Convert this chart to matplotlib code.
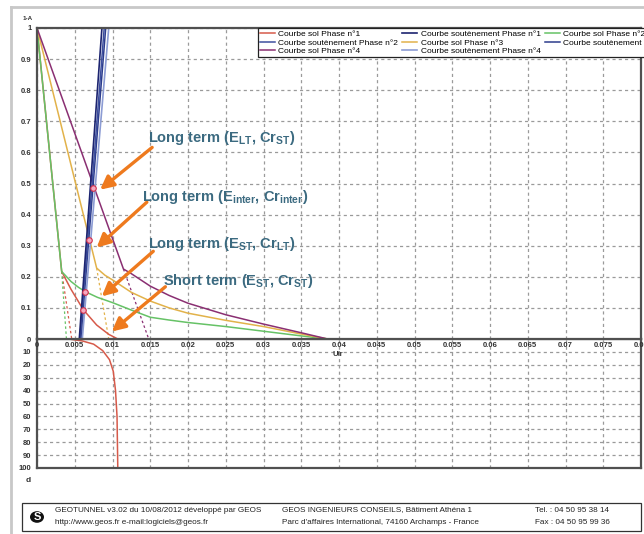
import matplotlib.pyplot as plt
from matplotlib.lines import Line2D
from matplotlib.patches import Rectangle, Circle

plt.rcParams["font.family"] = ["Liberation Sans", "DejaVu Sans"]
plt.rcParams["mathtext.fontset"] = "custom"
plt.rcParams["mathtext.rm"] = "Liberation Sans:bold"
plt.rcParams["mathtext.it"] = "Liberation Sans:bold"
plt.rcParams["mathtext.bf"] = "Liberation Sans:bold"

# Ground reaction curves, U/r against 1-A
sol1_x = [0, 0.00327, 0.0045, 0.00614, 0.0079, 0.0095, 0.0107]
sol1_y = [1, 0.217, 0.16, 0.094, 0.045, 0.015, 0]
sol2_x = [0, 0.00327, 0.0045, 0.0055, 0.0065, 0.008, 0.01, 0.0125, 0.015,
          0.0175, 0.02, 0.025, 0.03, 0.035, 0.0385]
sol2_y = [1, 0.217, 0.185, 0.166, 0.151, 0.134, 0.117, 0.093, 0.070,
          0.061, 0.053, 0.040, 0.025, 0.010, 0]
sol3_x = [0, 0.0079, 0.009, 0.01, 0.0125, 0.015, 0.0175, 0.02, 0.025,
          0.03, 0.035, 0.0385]
sol3_y = [1, 0.228, 0.205, 0.19, 0.15, 0.122, 0.10, 0.083, 0.06,
          0.04, 0.016, 0]
sol4_x = [0, 0.01145, 0.0125, 0.015, 0.0175, 0.02, 0.025, 0.03, 0.035, 0.0385]
sol4_y = [1, 0.225, 0.21, 0.17, 0.14, 0.115, 0.078, 0.048, 0.02, 0]

# Elastic continuations below the yield points
dash1_x = [0.00327, 0.0046]
dash1_y = [0.217, 0]
dash2_x = [0.00327, 0.0039]
dash2_y = [0.217, 0]
dash3_x = [0.0079, 0.0095]
dash3_y = [0.228, 0]
dash4_x = [0.01145, 0.0148]
dash4_y = [0.225, 0]

# Support confinement curves
sout1_x = [0.0056, 0.0086]
sout2_x = [0.0057, 0.0089]
sout3_x = [0.0058, 0.0091]
sout4_x = [0.0060, 0.0095]
sout_y = [0, 1]

# Equilibrium points
eq_x = [0.00614, 0.0064, 0.0069, 0.00747]
eq_y = [0.094, 0.151, 0.317, 0.486]

# Convergence profile, U/r against distance d
prof_x = [0.0042, 0.006, 0.0075, 0.0087, 0.0096, 0.0101, 0.0104, 0.0106, 0.0107]
prof_d = [0, 1.5, 4, 9, 16, 25, 40, 60, 100]

labels_txt = [
    r"Long term (E$_{LT}$, Cr$_{ST}$)",
    r"Long term (E$_{inter}$, Cr$_{inter}$)",
    r"Long term (E$_{ST}$, Cr$_{LT}$)",
    r"Short term (E$_{ST}$, Cr$_{ST}$)",
]
text_xy = [(0.01472, 0.646), (0.01393, 0.457), (0.01472, 0.305), (0.01671, 0.186)]
tail_xy = [(0.01525, 0.616), (0.01455, 0.44), (0.0154, 0.282), (0.0170, 0.168)]
tip_xy = [(0.00836, 0.48), (0.0079, 0.294), (0.00858, 0.137), (0.0099, 0.024)]

x_ticks = [i * 0.005 for i in range(17)]
x_labels = ["0", "0.005", "0.01", "0.015", "0.02", "0.025", "0.03", "0.035",
            "0.04", "0.045", "0.05", "0.055", "0.06", "0.065", "0.07", "0.075", "0.08"]
y_ticks = [i / 10 for i in range(11)]
y_labels = ["0", "0.1", "0.2", "0.3", "0.4", "0.5", "0.6", "0.7", "0.8", "0.9", "1"]
d_ticks = [10, 20, 30, 40, 50, 60, 70, 80, 90, 100]

C_SOL1 = "#d65a4a"
C_SOL2 = "#66c266"
C_SOL3 = "#e2b24a"
C_SOL4 = "#8a2f72"
C_SOUT1 = "#1c2470"
C_SOUT2 = "#3d4f9f"
C_SOUT3 = "#2c3c8c"
C_SOUT4 = "#8c9cd4"
GRID = "#9a9a9a"
SPINE = "#505050"
TXT = "#3b6a80"
ARROW = "#ee7a1e"

fig = plt.figure(figsize=(6.44, 5.34), dpi=100)

ax = fig.add_axes([37 / 644, 1 - 339 / 534, 604 / 644, 311 / 534])
axd = fig.add_axes([37 / 644, 1 - 468 / 534, 604 / 644, 129 / 534])
ax.set_zorder(2)

for a in (ax, axd):
    a.set_xlim(0, 0.08)
    a.set_xticks(x_ticks)
    a.grid(True, color=GRID, linestyle=(0, (2.5, 2.5)), linewidth=0.9)
    for s in a.spines.values():
        s.set_color(SPINE)
        s.set_linewidth(1.6)
    a.tick_params(length=0, labelsize=5.5, labelcolor="#333333")

ax.set_ylim(0, 1)
ax.set_yticks(y_ticks)
ax.set_yticklabels(y_labels, fontweight="bold")
ax.set_xticklabels(x_labels, fontweight="bold")
ax.tick_params(axis="x", pad=2)
ax.tick_params(axis="y", pad=4)

axd.set_ylim(100, 0)
axd.set_yticks(d_ticks)
axd.set_yticklabels([str(v) for v in d_ticks], fontweight="bold")
axd.tick_params(axis="x", labelbottom=False)
axd.tick_params(axis="y", pad=4)

# ground curves and their dashed elastic parts
ax.plot(dash1_x, dash1_y, color=C_SOL1, lw=0.9, ls=(0, (2, 2)))
ax.plot(dash2_x, dash2_y, color=C_SOL2, lw=0.9, ls=(0, (2, 2)))
ax.plot(dash3_x, dash3_y, color=C_SOL3, lw=0.9, ls=(0, (2, 2)))
ax.plot(dash4_x, dash4_y, color=C_SOL4, lw=0.9, ls=(0, (2, 2)))
l_sol1, = ax.plot(sol1_x, sol1_y, color=C_SOL1, lw=1.1)
l_sol2, = ax.plot(sol2_x, sol2_y, color=C_SOL2, lw=1.1)
l_sol3, = ax.plot(sol3_x, sol3_y, color=C_SOL3, lw=1.1)
l_sol4, = ax.plot(sol4_x, sol4_y, color=C_SOL4, lw=1.1)

l_sout4, = ax.plot(sout4_x, sout_y, color=C_SOUT4, lw=1.2)
l_sout3, = ax.plot(sout3_x, sout_y, color=C_SOUT3, lw=1.1)
l_sout2, = ax.plot(sout2_x, sout_y, color=C_SOUT2, lw=1.1)
l_sout1, = ax.plot(sout1_x, sout_y, color=C_SOUT1, lw=1.2)

ax.plot(eq_x, eq_y, ls="none", marker="o", ms=4, mfc="#f5a8c0", mec="#d0304a", mew=0.8, zorder=5)

axd.plot(prof_x, prof_d, color=C_SOL1, lw=1.1)

for txt, (tx, ty), tail, tip in zip(labels_txt, text_xy, tail_xy, tip_xy):
    ax.annotate("", xy=tip, xytext=tail,
                arrowprops=dict(arrowstyle="-|>", color=ARROW, lw=2.4,
                                mutation_scale=20, shrinkA=0, shrinkB=0), zorder=6)
    ax.text(tx, ty, txt, color=TXT, fontsize=10.5, fontweight="bold",
            ha="left", va="center", zorder=7)

handles = [l_sol1, l_sout2, l_sol4, l_sout1, l_sol3, l_sout4, l_sol2, l_sout3]
names = ["Courbe sol Phase n°1", "Courbe soutènement Phase n°2", "Courbe sol Phase n°4",
         "Courbe soutènement Phase n°1", "Courbe sol Phase n°3", "Courbe soutènement Phase n°4",
         "Courbe sol Phase n°2", "Courbe soutènement Phase n°3"]
leg = ax.legend(handles, names, ncol=3, loc="upper left",
                bbox_to_anchor=((258 - 37) / 604, 1.0), fontsize=6,
                frameon=True, fancybox=False, framealpha=1, edgecolor="#222222",
                borderpad=0.25, labelspacing=0.1, handlelength=1.8,
                handletextpad=0.4, columnspacing=0.5, borderaxespad=0)
leg.get_frame().set_linewidth(0.9)

fig.text(23 / 644, 1 - 18 / 534, "1-A", fontsize=4.5, fontweight="bold", color="#333333",
         ha="left", va="center")
fig.text(338 / 644, 1 - 354 / 534, "U/r", fontsize=5.5, fontweight="bold", color="#333333",
         ha="center", va="center")
fig.text(28 / 644, 1 - 480 / 534, "d", fontsize=6, fontweight="bold", color="#333333",
         ha="center", va="center")

# window frame
fig.add_artist(Line2D([11 / 644, 11 / 644], [0, 1 - 7 / 534], color="#c8c8c8", lw=2))
fig.add_artist(Line2D([11 / 644, 1], [1 - 7 / 534, 1 - 7 / 534], color="#c8c8c8", lw=2))

# footer
fig.add_artist(Rectangle((22 / 644, 3 / 534), 619 / 644, 28 / 534, transform=fig.transFigure,
                         facecolor="white", edgecolor="#333333", lw=0.9))
fig.add_artist(Circle((37 / 644, 1 - 517 / 534), 7 / 644, transform=fig.transFigure,
                      facecolor="#111111", edgecolor="none"))
fig.text(37 / 644, 1 - 517 / 534, "S", color="white", fontsize=8, fontweight="bold",
         ha="center", va="center")
foot = [
    (55, 510, "GEOTUNNEL v3.02 du 10/08/2012 développé par GEOS"),
    (55, 523, "http://www.geos.fr e-mail:logiciels@geos.fr"),
    (282, 510, "GEOS INGENIEURS CONSEILS, Bâtiment Athéna 1"),
    (282, 523, "Parc d'affaires International, 74160 Archamps - France"),
    (535, 510, "Tel. : 04 50 95 38 14"),
    (535, 523, "Fax : 04 50 95 99 36"),
]
for px, py, t in foot:
    fig.text(px / 644, 1 - py / 534, t, fontsize=5.9, color="#222222", ha="left", va="center")

fig.savefig("out.png", dpi=100, facecolor="white")
